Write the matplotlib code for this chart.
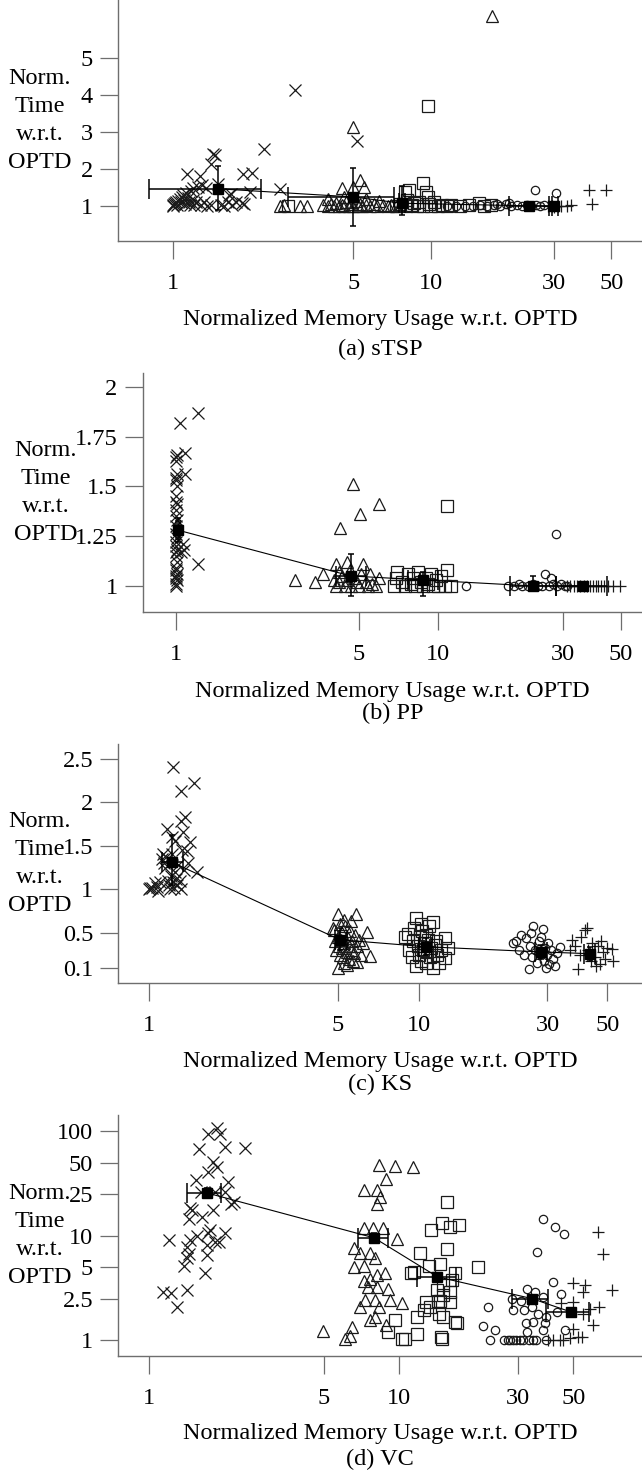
import matplotlib
matplotlib.use('Agg')
import matplotlib.pyplot as plt
import numpy as np

plt.rcParams['font.family'] = ['Liberation Serif', 'DejaVu Serif']

W, H = 642, 1479
AXIS_GREY = '#6e6e6e'
INK = '#1a1a1a'
FS = 17.5

#-----DATA-----#
x_ticks = [1, 5, 10, 30, 50]

# (a) sTSP
a_cross = [(1.00, 1.00), (1.00, 1.02), (1.01, 1.05), (1.02, 1.08), (1.03, 1.12), (1.04, 1.03),
           (1.05, 1.15), (1.06, 1.20), (1.07, 1.10), (1.08, 1.25), (1.09, 1.30), (1.10, 1.18),
           (1.11, 1.05), (1.12, 1.35), (1.13, 1.88), (1.14, 1.22), (1.15, 1.12), (1.16, 1.02),
           (1.17, 1.40), (1.19, 1.16), (1.20, 1.48), (1.21, 1.03), (1.23, 1.10), (1.25, 1.53),
           (1.27, 1.81), (1.28, 1.02), (1.30, 1.58), (1.32, 1.12), (1.34, 1.50), (1.36, 1.00),
           (1.40, 2.15), (1.40, 1.03), (1.43, 2.40), (1.46, 2.38), (1.49, 1.60), (1.53, 1.03),
           (1.58, 1.00), (1.63, 1.12), (1.65, 1.30), (1.68, 1.32), (1.70, 1.03), (1.75, 1.12),
           (1.85, 1.08), (1.86, 1.86), (1.89, 1.07), (1.98, 1.38), (2.02, 1.91), (2.26, 2.55),
           (2.60, 1.47), (2.96, 4.14), (5.15, 2.77)]
a_tri = [(2.60, 1.00), (2.70, 1.02), (3.10, 1.00), (3.30, 1.00), (3.80, 1.02), (4.00, 1.00),
         (4.00, 1.20), (4.10, 1.05), (4.20, 1.00), (4.30, 1.08), (4.40, 1.00), (4.50, 1.03),
         (4.50, 1.48), (4.60, 1.00), (4.60, 1.25), (4.70, 1.10), (4.80, 1.00), (4.90, 1.05),
         (4.97, 1.51), (4.97, 3.13), (5.00, 1.00), (5.10, 1.15), (5.20, 1.00), (5.30, 1.70),
         (5.30, 1.05), (5.40, 1.00), (5.50, 1.51), (5.60, 1.02), (5.60, 1.20), (5.80, 1.00),
         (6.00, 1.06), (6.20, 1.00), (6.30, 1.15), (6.50, 1.03), (6.80, 1.00), (7.00, 1.02),
         (7.30, 1.00), (7.60, 1.04), (17.3, 6.13)]
a_square = [(2.78, 1.00), (7.30, 1.00), (7.60, 1.05), (7.90, 1.38), (8.00, 1.00), (8.10, 1.18),
            (8.20, 1.43), (8.40, 1.02), (8.60, 1.08), (8.80, 1.00), (9.00, 1.12), (9.30, 1.63),
            (9.30, 1.00), (9.60, 1.38), (9.70, 1.26), (9.77, 3.71), (9.80, 1.05), (10.0, 1.00),
            (10.3, 1.10), (10.6, 1.00), (11.0, 1.04), (11.5, 1.00), (12.0, 1.02), (13.0, 1.00),
            (14.0, 1.03), (15.4, 1.08), (16.0, 1.00), (17.0, 1.02)]
a_circle = [(11.5, 1.00), (12.5, 1.00), (13.5, 1.01), (14.5, 1.00), (15.5, 1.02), (16.5, 1.00),
            (17.5, 1.04), (18.0, 1.06), (18.5, 1.00), (19.5, 1.05), (20.0, 1.08), (20.5, 1.00),
            (21.5, 1.02), (22.5, 1.00), (23.5, 1.03), (24.5, 1.00), (25.2, 1.43), (25.5, 1.02),
            (26.5, 1.00), (27.4, 1.03), (30.6, 1.36)]
a_plus = [(28.5, 1.00), (29.4, 1.00), (30.0, 0.98), (31.0, 1.00), (32.0, 1.00), (33.5, 1.00),
          (35.0, 1.02), (41.0, 1.43), (42.0, 1.07), (47.5, 1.45)]
a_mean_x = [1.50, 5.00, 7.70, 24.0, 30.0]
a_mean_y = [1.47, 1.25, 1.08, 1.01, 1.00]
a_mean_xlo = [0.81, 2.80, 7.50, 20.1, 29.4]
a_mean_xhi = [2.19, 7.18, 7.90, 28.6, 31.0]
a_mean_ylo = [0.89, 0.47, 0.75, 0.97, 0.95]
a_mean_yhi = [2.08, 2.04, 1.55, 1.06, 1.04]

# (b) PP
b_cross = [(1.00, 1.00), (1.00, 1.01), (1.01, 1.03), (1.00, 1.04), (1.00, 1.05), (1.01, 1.06),
           (1.00, 1.08), (1.00, 1.09), (1.01, 1.12), (1.00, 1.15), (1.00, 1.17), (1.01, 1.18),
           (1.00, 1.20), (1.00, 1.22), (1.01, 1.24), (1.00, 1.26), (1.00, 1.30), (1.01, 1.33),
           (1.00, 1.35), (1.00, 1.38), (1.01, 1.41), (1.00, 1.42), (1.00, 1.45), (1.01, 1.50),
           (1.00, 1.53), (1.00, 1.54), (1.01, 1.56), (1.00, 1.63), (1.00, 1.65), (1.01, 1.66),
           (1.04, 1.82), (1.21, 1.87), (1.08, 1.67), (1.08, 1.56), (1.06, 1.21), (1.07, 1.18),
           (1.21, 1.11), (1.05, 1.17)]
b_tri = [(2.85, 1.03), (3.39, 1.02), (3.65, 1.06), (4.00, 1.03), (4.07, 1.11), (4.10, 1.00),
         (4.20, 1.02), (4.20, 1.07), (4.24, 1.29), (4.30, 1.05), (4.40, 1.00), (4.50, 1.03),
         (4.50, 1.12), (4.60, 1.08), (4.65, 1.00), (4.73, 1.51), (4.80, 1.04), (4.90, 1.02),
         (5.00, 1.00), (5.04, 1.36), (5.10, 1.06), (5.19, 1.11), (5.30, 1.02), (5.40, 1.00),
         (5.50, 1.06), (5.60, 1.01), (5.80, 1.00), (5.97, 1.41), (5.97, 1.04)]
b_square = [(6.8, 1.00), (6.9, 1.04), (7.0, 1.07), (7.3, 1.02), (7.5, 1.00), (7.7, 1.06),
            (7.9, 1.01), (8.0, 1.04), (8.2, 1.00), (8.4, 1.07), (8.6, 1.02), (8.8, 1.00),
            (9.0, 1.04), (9.2, 1.01), (9.4, 1.06), (9.6, 1.00), (9.8, 1.03), (10.0, 1.00),
            (10.3, 1.05), (10.6, 1.00), (10.8, 1.08), (11.2, 1.00), (10.87, 1.40)]
b_circle = [(12.8, 1.00), (18.5, 1.00), (19.5, 1.00), (20.3, 1.01), (21.0, 1.00), (22.0, 1.00),
            (23.0, 1.01), (24.0, 1.00), (25.0, 1.00), (25.6, 1.06), (26.5, 1.00), (27.0, 1.04),
            (27.5, 1.01), (28.2, 1.26), (28.5, 1.00), (29.5, 1.01), (30.5, 1.00), (31.0, 1.00)]
b_plus = [(31.0, 1.0), (32.0, 1.0), (33.0, 1.0), (34.0, 1.0), (35.0, 1.0), (36.0, 1.0),
          (37.0, 1.0), (38.0, 1.0), (39.0, 1.0), (40.0, 1.0), (41.0, 1.0), (42.0, 1.0),
          (43.0, 1.0), (44.5, 1.0), (46.5, 1.0), (49.5, 1.0)]
b_mean_x = [1.02, 4.65, 8.80, 23.0, 35.8]
b_mean_y = [1.28, 1.05, 1.03, 1.00, 1.00]
b_mean_xlo = [1.00, 4.07, 7.70, 18.9, 28.2]
b_mean_xhi = [1.04, 5.33, 10.0, 28.2, 44.0]
b_mean_ylo = [1.22, 0.95, 0.95, 0.98, 0.99]
b_mean_yhi = [1.34, 1.16, 1.07, 1.05, 1.01]

# (c) KS
c_cross = [(1.00, 1.00), (1.01, 1.01), (1.03, 1.02), (1.05, 1.07), (1.07, 1.03), (1.08, 0.98),
           (1.10, 1.08), (1.12, 1.35), (1.13, 1.40), (1.14, 1.30), (1.15, 1.25), (1.16, 1.37),
           (1.17, 1.69), (1.18, 1.10), (1.19, 1.05), (1.20, 1.00), (1.21, 1.15), (1.22, 1.60),
           (1.22, 1.40), (1.23, 2.40), (1.23, 1.08), (1.24, 1.02), (1.25, 1.20), (1.25, 1.55),
           (1.26, 1.12), (1.27, 1.05), (1.28, 1.28), (1.30, 1.10), (1.31, 2.13), (1.31, 1.79),
           (1.32, 1.00), (1.33, 1.45), (1.34, 1.66), (1.35, 1.22), (1.36, 1.83), (1.38, 1.44),
           (1.40, 1.30), (1.42, 1.54), (1.47, 2.22), (1.51, 1.20)]
c_tri = [(4.80, 0.55), (4.86, 0.53), (4.90, 0.40), (4.95, 0.30), (5.00, 0.72), (5.00, 0.45),
         (5.00, 0.10), (5.05, 0.35), (5.10, 0.25), (5.10, 0.60), (5.15, 0.42), (5.20, 0.32),
         (5.20, 0.50), (5.25, 0.22), (5.30, 0.38), (5.30, 0.15), (5.30, 0.65), (5.35, 0.58),
         (5.40, 0.28), (5.41, 0.13), (5.45, 0.44), (5.50, 0.35), (5.50, 0.20), (5.55, 0.52),
         (5.60, 0.63), (5.60, 0.30), (5.65, 0.40), (5.70, 0.18), (5.75, 0.27), (5.80, 0.48),
         (5.86, 0.72), (5.90, 0.16), (5.90, 0.35), (6.00, 0.42), (6.10, 0.25), (6.20, 0.38),
         (6.42, 0.51), (6.61, 0.23)]
c_square = [(8.9, 0.45), (9.1, 0.49), (9.2, 0.30), (9.4, 0.22), (9.5, 0.40), (9.6, 0.55),
            (9.78, 0.67), (9.78, 0.12), (9.9, 0.35), (10.0, 0.25), (10.1, 0.45), (10.2, 0.18),
            (10.2, 0.60), (10.3, 0.52), (10.4, 0.30), (10.5, 0.38), (10.6, 0.15), (10.6, 0.48),
            (10.7, 0.28), (10.8, 0.42), (10.9, 0.58), (11.0, 0.22), (11.1, 0.33), (11.3, 0.62),
            (11.3, 0.10), (11.5, 0.36), (11.6, 0.40), (11.7, 0.25), (11.9, 0.15), (12.1, 0.30),
            (12.5, 0.44), (12.5, 0.21), (12.8, 0.32)]
c_circle = [(22.4, 0.38), (22.9, 0.40), (23.5, 0.30), (24.0, 0.48), (24.5, 0.25), (25.0, 0.44),
            (25.6, 0.08), (25.8, 0.35), (26.0, 0.50), (26.2, 0.22), (26.5, 0.58), (27.0, 0.30),
            (27.5, 0.15), (27.8, 0.40), (28.2, 0.26), (28.5, 0.45), (28.8, 0.54), (29.0, 0.18),
            (29.3, 0.33), (29.6, 0.10), (30.0, 0.24), (30.2, 0.38), (30.5, 0.14), (31.0, 0.30),
            (31.5, 0.20), (32.0, 0.12), (32.5, 0.27), (33.3, 0.34)]
c_plus = [(36.5, 0.30), (37.0, 0.42), (38.0, 0.35), (39.0, 0.08), (39.5, 0.25), (40.0, 0.45),
          (41.3, 0.53), (42.0, 0.55), (42.5, 0.30), (43.5, 0.18), (44.0, 0.38), (45.0, 0.22),
          (45.5, 0.12), (46.0, 0.35), (47.0, 0.14), (47.5, 0.40), (48.0, 0.28), (49.0, 0.20),
          (50.0, 0.32), (51.9, 0.31), (52.5, 0.18)]
c_mean_x = [1.22, 5.10, 10.6, 28.5, 43.0]
c_mean_y = [1.31, 0.42, 0.34, 0.28, 0.26]
c_mean_xlo = [1.12, 4.90, 10.0, 27.0, 41.0]
c_mean_xhi = [1.34, 5.40, 11.2, 30.0, 45.0]
c_mean_ylo = [1.05, 0.30, 0.24, 0.20, 0.18]
c_mean_yhi = [1.62, 0.55, 0.44, 0.36, 0.34]

# (d) VC
d_cross = [(1.88, 107), (1.72, 94.5), (1.92, 94.5), (1.58, 67.8), (2.01, 71.3), (2.43, 68.9),
           (1.81, 51.2), (1.88, 45.9), (1.72, 40.5), (1.54, 34.2), (2.08, 32.9), (1.61, 26.4),
           (1.84, 26.4), (2.01, 26.4), (2.12, 20.4), (2.18, 21.1), (1.46, 18.3), (1.49, 17.6),
           (1.63, 15.0), (1.80, 17.6), (1.44, 14.4), (1.76, 11.3), (1.73, 10.7), (2.02, 10.7),
           (1.56, 9.9), (1.46, 9.2), (1.20, 9.2), (1.84, 8.8), (1.90, 8.8), (1.71, 8.1),
           (1.42, 7.8), (1.70, 6.5), (1.44, 6.7), (1.42, 6.1), (1.38, 5.2), (1.68, 4.4),
           (1.14, 2.9), (1.22, 2.84), (1.42, 3.06), (1.30, 2.08)]
d_tri = [(8.3, 47.6), (9.68, 46.6), (11.4, 45.3), (8.9, 34.7), (7.23, 27.4), (8.18, 27.4),
         (8.45, 23.7), (8.18, 20.0), (7.23, 12.0), (7.92, 12.0), (8.68, 12.0), (9.83, 9.4),
         (6.6, 7.6), (7.0, 6.8), (7.7, 6.8), (8.0, 6.1), (6.6, 5.0), (7.23, 5.2), (8.18, 4.2),
         (8.8, 4.4), (7.23, 3.7), (7.7, 3.9), (7.5, 3.24), (8.18, 3.24), (9.07, 3.1),
         (7.3, 2.45), (8.0, 2.45), (9.2, 2.42), (10.3, 2.25), (7.0, 2.06), (8.3, 2.06),
         (7.7, 1.58), (8.0, 1.67), (8.9, 1.39), (4.97, 1.23), (6.5, 1.34), (6.07, 1.02),
         (6.4, 1.09)]
d_square = [(15.6, 21.2), (13.5, 11.5), (14.9, 13.3), (16.0, 12.2), (17.5, 12.7), (12.2, 6.9),
            (15.6, 7.4), (13.2, 5.1), (14.6, 5.4), (20.7, 5.0), (11.2, 4.4), (11.5, 4.5),
            (16.3, 3.8), (16.8, 4.4), (14.3, 3.0), (15.0, 3.4), (16.0, 2.9), (14.6, 2.4),
            (16.0, 2.3), (12.9, 2.3), (14.4, 2.4), (15.0, 2.7), (13.3, 2.08), (11.8, 1.67),
            (12.6, 1.94), (9.7, 1.58), (14.5, 1.8), (15.0, 1.67), (16.8, 1.5), (17.1, 1.45),
            (9.1, 1.2), (11.8, 1.14), (14.8, 1.08), (10.3, 1.02), (10.6, 1.02), (14.9, 1.02)]
d_circle = [(37.7, 14.4), (42.1, 12.2), (45.8, 10.4), (35.9, 7.0), (41.6, 3.6), (32.6, 3.1),
            (35.1, 2.9), (37.9, 2.6), (44.8, 2.8), (28.4, 2.5), (31.0, 2.4), (28.8, 1.94),
            (31.9, 1.94), (34.1, 2.08), (36.3, 1.8), (38.9, 1.67), (42.9, 1.87), (22.8, 2.08),
            (32.3, 1.45), (34.5, 1.5), (38.6, 1.45), (21.8, 1.36), (24.3, 1.25), (32.6, 1.2),
            (37.9, 1.25), (46.3, 1.25), (23.3, 1.0), (26.3, 1.0), (27.4, 1.01), (27.9, 1.0),
            (28.8, 1.0), (29.6, 1.0), (30.6, 1.01), (31.4, 1.0), (33.4, 1.0), (34.5, 1.01),
            (35.5, 1.0), (39.0, 1.0)]
d_plus = [(62.9, 10.9), (65.8, 6.7), (49.9, 3.5), (55.6, 3.37), (54.7, 2.9), (71.8, 3.06),
          (44.8, 2.25), (49.9, 2.33), (58.3, 2.0), (63.5, 2.08), (54.7, 1.8), (49.9, 1.27),
          (60.1, 1.39), (39.7, 1.0), (41.6, 1.0), (44.3, 1.0), (45.7, 1.0), (48.6, 1.04),
          (52.5, 1.08), (54.3, 1.08)]
d_mean_x = [1.70, 7.97, 14.3, 34.1, 48.9]
d_mean_y = [25.8, 9.57, 4.05, 2.51, 1.87]
d_mean_xlo = [1.42, 6.86, 11.8, 28.4, 39.0]
d_mean_xhi = [1.95, 9.07, 17.0, 39.8, 57.7]
d_mean_ylo = [23.0, 8.6, 3.7, 2.35, 1.75]
d_mean_yhi = [29.0, 10.6, 4.4, 2.7, 2.0]


def fx(px):
    return px / W


def fy(py):
    return 1 - py / H


def draw_panel(left, top, bottom, xlim, ylim, ylog, yticks, ylabels,
               groups, means, ylab_x, xlab_y, cap_y, caption):
    ax = fig.add_axes([fx(left), fy(bottom), fx(W - left), (bottom - top) / H])
    ax.set_xscale('log')
    if ylog:
        ax.set_yscale('log')
    ax.set_xlim(*xlim)
    ax.set_ylim(*ylim)
    for side in ('top', 'right'):
        ax.spines[side].set_visible(False)
    for side in ('left', 'bottom'):
        ax.spines[side].set_color(AXIS_GREY)
        ax.spines[side].set_linewidth(1.0)
    ax.set_xticks(x_ticks)
    ax.set_xticklabels([str(t) for t in x_ticks])
    ax.set_yticks(yticks)
    ax.set_yticklabels(ylabels)
    ax.minorticks_off()
    ax.tick_params(axis='both', direction='out', length=13, width=0.9,
                   color=AXIS_GREY, labelsize=FS)
    ax.tick_params(axis='x', pad=10)
    ax.tick_params(axis='y', pad=5)

    # raw points
    styles = [('x', 8), ('^', 9), ('s', 9), ('o', 6), ('+', 9)]
    for pts, (mk, ms) in zip(groups, styles):
        xs = [p[0] for p in pts]
        ys = [p[1] for p in pts]
        ax.plot(xs, ys, linestyle='none', marker=mk, markersize=ms,
                markerfacecolor='none', markeredgecolor=INK, markeredgewidth=0.9)

    # means with error bars
    mx, my, xlo, xhi, ylo, yhi = [np.array(v, dtype=float) for v in means]
    ax.errorbar(mx, my, xerr=[mx - xlo, xhi - mx], fmt='none', ecolor='k',
                elinewidth=1.1, capsize=7, capthick=1.1, zorder=4)
    ax.errorbar(mx, my, yerr=[my - ylo, yhi - my], fmt='none', ecolor='k',
                elinewidth=1.1, capsize=2.5, capthick=1.1, zorder=4)
    ax.plot(mx, my, color='k', linewidth=0.8, marker='s', markersize=6.5,
            markerfacecolor='k', markeredgecolor='k', zorder=5)

    mid_y = (top + bottom) / 2
    fig.text(fx(ylab_x), fy(mid_y), 'Norm.\nTime\nw.r.t.\nOPTD', ha='center',
             va='center', multialignment='center', fontsize=FS, linespacing=1.42)
    mid_x = (left + W) / 2
    fig.text(fx(mid_x), fy(xlab_y), 'Normalized Memory Usage w.r.t. OPTD',
             ha='center', va='center', fontsize=FS)
    fig.text(fx(mid_x), fy(cap_y), caption, ha='center', va='center', fontsize=FS)
    return ax


fig = plt.figure(figsize=(W / 100, H / 100), dpi=100)

draw_panel(118, 0, 241, (0.612, 65.7), (0.06, 6.57), False,
           [1, 2, 3, 4, 5], ['1', '2', '3', '4', '5'],
           [a_cross, a_tri, a_square, a_circle, a_plus],
           [a_mean_x, a_mean_y, a_mean_xlo, a_mean_xhi, a_mean_ylo, a_mean_yhi],
           40, 320, 349, '(a) sTSP')

draw_panel(142.6, 373, 612, (0.746, 60.1), (0.869, 2.07), False,
           [1, 1.25, 1.5, 1.75, 2], ['1', '1.25', '1.5', '1.75', '2'],
           [b_cross, b_tri, b_square, b_circle, b_plus],
           [b_mean_x, b_mean_y, b_mean_xlo, b_mean_xhi, b_mean_ylo, b_mean_yhi],
           46, 692, 713, '(b) PP')

draw_panel(118, 744, 983, (0.768, 67.2), (-0.077, 2.67), False,
           [0.1, 0.5, 1, 1.5, 2, 2.5], ['0.1', '0.5', '1', '1.5', '2', '2.5'],
           [c_cross, c_tri, c_square, c_circle, c_plus],
           [c_mean_x, c_mean_y, c_mean_xlo, c_mean_xhi, c_mean_ylo, c_mean_yhi],
           40, 1062, 1084, '(c) KS')

draw_panel(118, 1115, 1356, (0.751, 94.3), (0.707, 143.6), True,
           [1, 2.5, 5, 10, 25, 50, 100], ['1', '2.5', '5', '10', '25', '50', '100'],
           [d_cross, d_tri, d_square, d_circle, d_plus],
           [d_mean_x, d_mean_y, d_mean_xlo, d_mean_xhi, d_mean_ylo, d_mean_yhi],
           40, 1433, 1459, '(d) VC')

fig.savefig('out.png', dpi=100)
